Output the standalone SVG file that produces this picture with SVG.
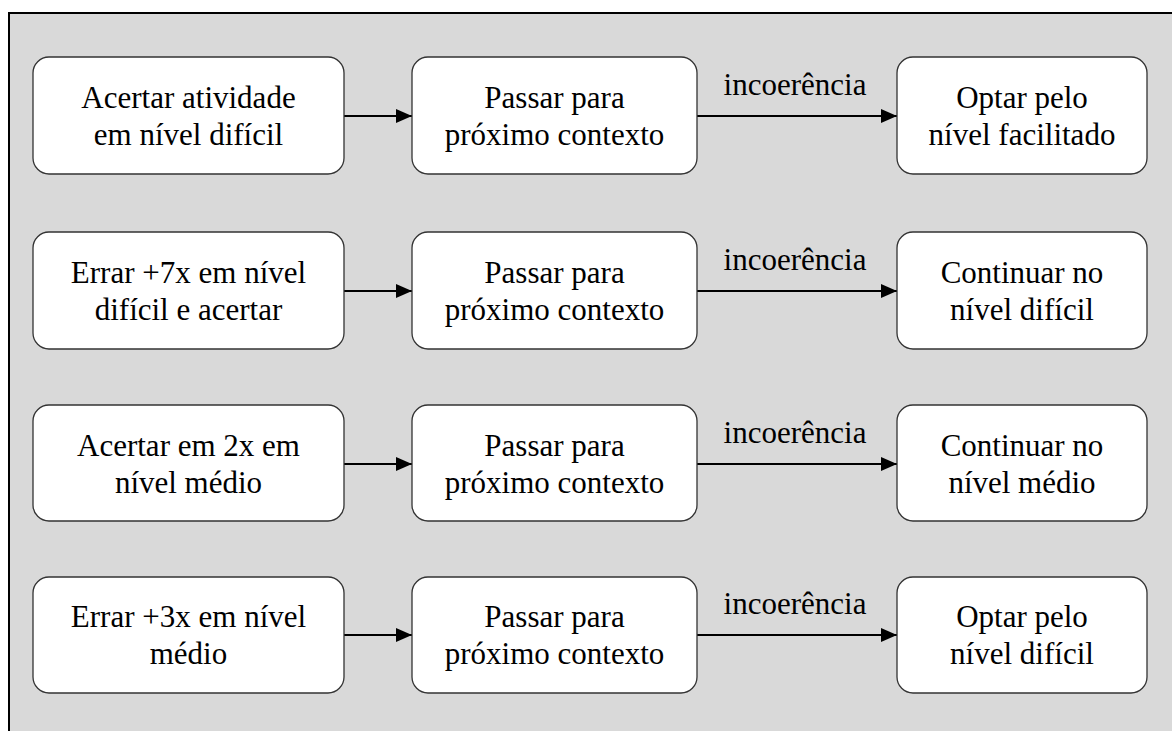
<svg xmlns="http://www.w3.org/2000/svg" width="1172" height="731" viewBox="0 0 1172 731" font-family="Liberation Serif, Times New Roman, DejaVu Serif, serif">
<style>
.bg{fill:#d9d9d9;stroke:#000;stroke-width:2}
.n{fill:#fff;stroke:#333;stroke-width:1.3}
.t{font-size:31px;fill:#000;text-anchor:middle}
.c{stroke:#000;stroke-width:2;fill:none;marker-end:url(#ah)}
</style>
<defs>
<marker id="ah" viewBox="0 0 16 14" refX="16" refY="7" markerWidth="16" markerHeight="14" markerUnits="userSpaceOnUse" orient="auto">
<path d="M0,0 L16,7 L0,14 z" fill="#000"/>
</marker>
</defs>
<rect class="bg" x="9" y="13" width="1200" height="760"/>
<g id="connectors">
<line class="c" x1="344" y1="116" x2="412" y2="116"/>
<line class="c" x1="697" y1="116" x2="897" y2="116"/>
<text class="t" x="795" y="95">incoerência</text>
<line class="c" x1="344" y1="291" x2="412" y2="291"/>
<line class="c" x1="697" y1="291" x2="897" y2="291"/>
<text class="t" x="795" y="270">incoerência</text>
<line class="c" x1="344" y1="464" x2="412" y2="464"/>
<line class="c" x1="697" y1="464" x2="897" y2="464"/>
<text class="t" x="795" y="443">incoerência</text>
<line class="c" x1="344" y1="635" x2="412" y2="635"/>
<line class="c" x1="697" y1="635" x2="897" y2="635"/>
<text class="t" x="795" y="614">incoerência</text>
</g>
<g id="n1a"><rect class="n" x="33" y="57" width="311" height="117" rx="16"/><text class="t" x="188.5" y="108">Acertar atividade</text><text class="t" x="188.5" y="145">em nível difícil</text></g>
<g id="n1b"><rect class="n" x="412" y="57" width="285" height="117" rx="16"/><text class="t" x="554.5" y="108">Passar para</text><text class="t" x="554.5" y="145">próximo contexto</text></g>
<g id="n1c"><rect class="n" x="897" y="57" width="250" height="117" rx="16"/><text class="t" x="1022" y="108">Optar pelo</text><text class="t" x="1022" y="145">nível facilitado</text></g>
<g id="n2a"><rect class="n" x="33" y="232" width="311" height="117" rx="16"/><text class="t" x="188.5" y="283">Errar +7x em nível</text><text class="t" x="188.5" y="320">difícil e acertar</text></g>
<g id="n2b"><rect class="n" x="412" y="232" width="285" height="117" rx="16"/><text class="t" x="554.5" y="283">Passar para</text><text class="t" x="554.5" y="320">próximo contexto</text></g>
<g id="n2c"><rect class="n" x="897" y="232" width="250" height="117" rx="16"/><text class="t" x="1022" y="283">Continuar no</text><text class="t" x="1022" y="320">nível difícil</text></g>
<g id="n3a"><rect class="n" x="33" y="405" width="311" height="116" rx="16"/><text class="t" x="188.5" y="456">Acertar em 2x em</text><text class="t" x="188.5" y="493">nível médio</text></g>
<g id="n3b"><rect class="n" x="412" y="405" width="285" height="116" rx="16"/><text class="t" x="554.5" y="456">Passar para</text><text class="t" x="554.5" y="493">próximo contexto</text></g>
<g id="n3c"><rect class="n" x="897" y="405" width="250" height="116" rx="16"/><text class="t" x="1022" y="456">Continuar no</text><text class="t" x="1022" y="493">nível médio</text></g>
<g id="n4a"><rect class="n" x="33" y="577" width="311" height="116" rx="16"/><text class="t" x="188.5" y="627">Errar +3x em nível</text><text class="t" x="188.5" y="664">médio</text></g>
<g id="n4b"><rect class="n" x="412" y="577" width="285" height="116" rx="16"/><text class="t" x="554.5" y="627">Passar para</text><text class="t" x="554.5" y="664">próximo contexto</text></g>
<g id="n4c"><rect class="n" x="897" y="577" width="250" height="116" rx="16"/><text class="t" x="1022" y="627">Optar pelo</text><text class="t" x="1022" y="664">nível difícil</text></g>
</svg>
